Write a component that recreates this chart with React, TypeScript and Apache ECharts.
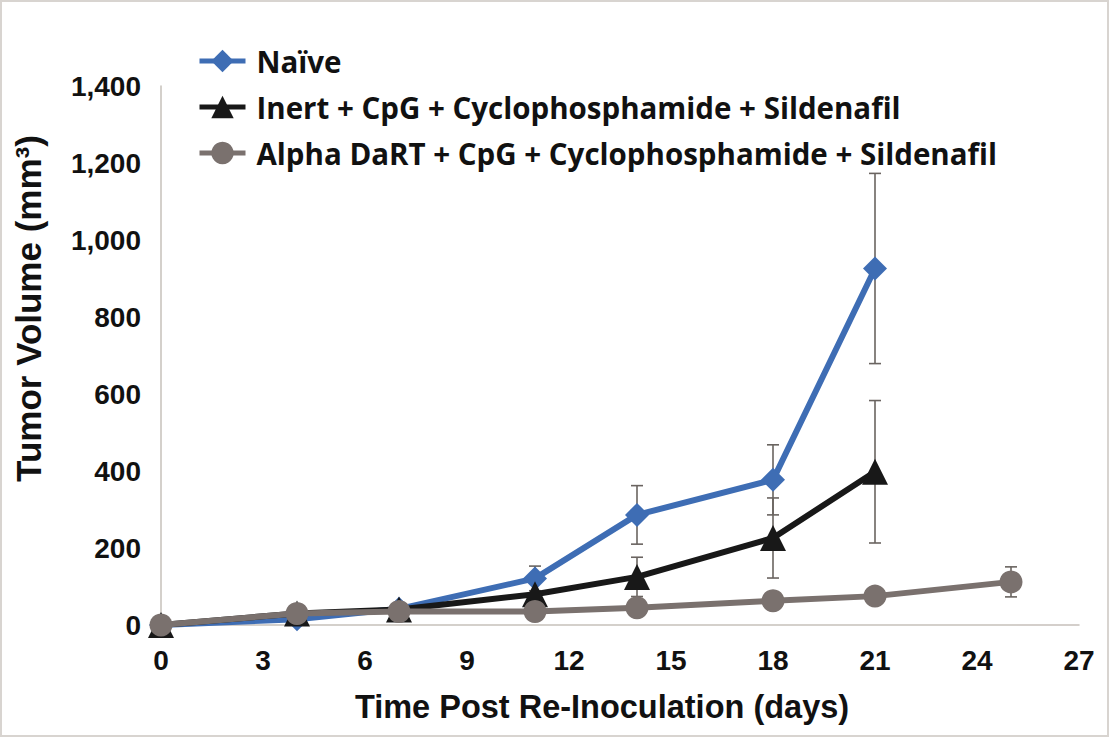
import React, { useEffect, useRef } from "react";
import * as echarts from "echarts";

const seriesNames = [
  "Naïve",
  "Inert + CpG + Cyclophosphamide + Sildenafil",
  "Alpha DaRT + CpG + Cyclophosphamide + Sildenafil",
];
const naiveDays = [0, 4, 7, 11, 14, 18, 21];
const naiveMean = [0, 15, 42, 121, 286, 377, 926];
const naiveErr = [0, 0, 0, 32, 76, 91, 247];
const inertDays = [0, 4, 7, 11, 14, 18, 21];
const inertMean = [0, 30, 40, 80, 125, 226, 398];
const inertErr = [0, 0, 0, 0, 51, 104, 185];
const alphaDays = [0, 4, 7, 11, 14, 18, 21, 25];
const alphaMean = [0, 30, 35, 35, 45, 63, 75, 112];
const alphaErr = [0, 0, 0, 0, 0, 0, 0, 39];
const colors = ["#3e6db4", "#181818", "#7a716e"];
const symbols = ["diamond", "triangle", "circle"];
const symbolSizes = [24, 26, 23];

const pairs = (xs: number[], ys: number[]) => xs.map((x, i) => [x, ys[i]]);
const errData = (xs: number[], ys: number[], es: number[]) =>
  xs
    .map((x, i) => [x, ys[i] - es[i], ys[i] + es[i]])
    .filter((_, i) => es[i] > 0);

const renderErr = (params: any, api: any) => {
  const x = api.value(0);
  const lo = api.coord([x, api.value(1)]);
  const hi = api.coord([x, api.value(2)]);
  const hw = 6;
  const style = { stroke: "#6a6460", lineWidth: 1.6 };
  return {
    type: "group",
    children: [
      { type: "line", shape: { x1: lo[0], y1: lo[1], x2: hi[0], y2: hi[1] }, style },
      { type: "line", shape: { x1: hi[0] - hw, y1: hi[1], x2: hi[0] + hw, y2: hi[1] }, style },
      { type: "line", shape: { x1: lo[0] - hw, y1: lo[1], x2: lo[0] + hw, y2: lo[1] }, style },
    ],
  };
};

export default function App() {
  const ref = useRef<HTMLDivElement>(null);
  useEffect(() => {
    document.body.style.margin = "0";
    const chart = echarts.init(ref.current!, null, { renderer: "svg" });
    const allMeans = [
      pairs(naiveDays, naiveMean),
      pairs(inertDays, inertMean),
      pairs(alphaDays, alphaMean),
    ];
    const allErr = [
      errData(naiveDays, naiveMean, naiveErr),
      errData(inertDays, inertMean, inertErr),
      errData(alphaDays, alphaMean, alphaErr),
    ];
    const axisFont = {
      fontFamily: "'Liberation Sans', Arial, sans-serif",
      fontWeight: "bold" as const,
      color: "#111",
    };
    chart.setOption({
      animation: false,
      backgroundColor: "#ffffff",
      grid: { left: 161, right: 30, top: 86, bottom: 112 },
      legend: {
        orient: "vertical",
        left: 197,
        top: 46,
        padding: 0,
        itemWidth: 46,
        itemHeight: 28,
        itemGap: 16,
        data: seriesNames,
        lineStyle: { width: 5 },
        textStyle: {
          fontFamily: "'Open Sans', sans-serif",
          fontWeight: "bold",
          fontSize: 29.5,
          lineHeight: 30,
          color: "#111",
          padding: [0, 0, 0, 6],
        },
      },
      xAxis: {
        type: "value",
        min: 0,
        max: 27,
        interval: 3,
        name: "Time Post Re-Inoculation (days)",
        nameLocation: "middle",
        nameGap: 65,
        nameTextStyle: { ...axisFont, fontSize: 32.5, padding: [0, 36, 0, 0] },
        axisLine: { show: true, lineStyle: { color: "#c6c0ba", width: 1.5 } },
        axisTick: { show: false },
        splitLine: { show: false },
        axisLabel: { ...axisFont, fontSize: 28, margin: 21 },
      },
      yAxis: {
        type: "value",
        min: 0,
        max: 1400,
        interval: 200,
        name: "Tumor Volume (mm³)",
        nameLocation: "middle",
        nameGap: 115,
        nameTextStyle: { ...axisFont, fontSize: 35, padding: [0, 0, 0, 94] },
        axisLine: { show: true, lineStyle: { color: "#c6c0ba", width: 1.5 } },
        axisTick: { show: false },
        splitLine: { show: false },
        axisLabel: {
          ...axisFont,
          fontSize: 28,
          margin: 20,
          formatter: (v: number) => v.toLocaleString("en-US"),
        },
      },
      graphic: [
        {
          type: "rect",
          shape: { x: 1, y: 1, width: 1107, height: 735 },
          style: { fill: "none", stroke: "#d8d4d0", lineWidth: 2 },
          silent: true,
        },
      ],
      series: [
        ...allErr.map((d, i) => ({
          type: "custom",
          name: "err" + i,
          renderItem: renderErr,
          data: d,
          z: 1,
          silent: true,
        })),
        ...allMeans.map((d, i) => ({
          type: "line",
          name: seriesNames[i],
          data: d,
          symbol: symbols[i],
          symbolSize: symbolSizes[i],
          showAllSymbol: true,
          color: colors[i],
          lineStyle: { color: colors[i], width: 6 },
          itemStyle: { color: colors[i] },
          z: 3 + i,
        })),
      ],
    });
    return () => chart.dispose();
  }, []);
  return <div ref={ref} style={{ width: 1109, height: 737 }} />;
}
